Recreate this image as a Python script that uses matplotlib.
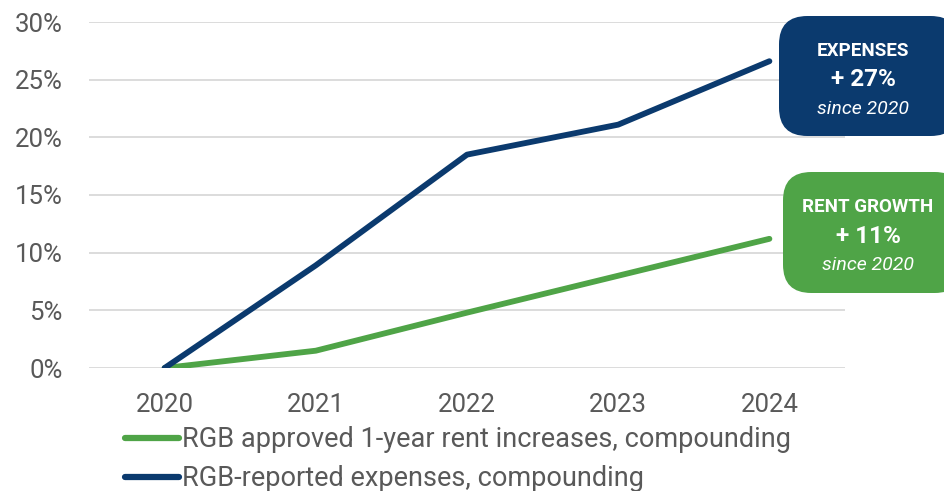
import matplotlib.pyplot as plt
from matplotlib.patches import FancyBboxPatch
from matplotlib.lines import Line2D

years = ["2020", "2021", "2022", "2023", "2024"]
rent_growth = [0.0, 1.5, 4.8, 8.0, 11.2]
expenses = [0.0, 8.9, 18.5, 21.1, 26.6]
y_ticks = [0, 5, 10, 15, 20, 25, 30]

NAVY = "#0b3a6e"
GREEN = "#4fa447"
GREY = "#595959"

plt.rcParams["font.family"] = ["Roboto", "DejaVu Sans"]

fig = plt.figure(figsize=(9.44, 4.91), dpi=100)
ax = fig.add_axes([89 / 944, 1 - 368 / 491, (845 - 89) / 944, (368 - 22) / 491])

x = range(len(years))
ax.plot(x, rent_growth, color=GREEN, lw=4.2, solid_capstyle="round", zorder=3)
ax.plot(x, expenses, color=NAVY, lw=4.2, solid_capstyle="round", zorder=4)

ax.set_xlim(-0.5, len(years) - 0.5)
ax.set_ylim(0, 30)
ax.set_xticks(list(x))
ax.set_xticklabels(years)
ax.set_yticks(y_ticks)
ax.set_yticklabels([f"{v}%" for v in y_ticks])
ax.tick_params(length=0, labelsize=18.5, colors=GREY)
ax.tick_params(axis="x", pad=18)
ax.tick_params(axis="y", pad=19)
for s in ax.spines.values():
    s.set_visible(False)
ax.grid(axis="y", color="#d9d9d9", lw=1.3)
ax.set_axisbelow(True)


# callout boxes
def callout(x0, y0, w, h, color, title, value, cx):
    box = FancyBboxPatch((x0 / 944, 1 - (y0 + h) / 491), w / 944, h / 491,
                         boxstyle="round,pad=0,rounding_size=0.03",
                         transform=fig.transFigure, facecolor=color,
                         edgecolor="none", clip_on=False, mutation_aspect=944 / 491)
    fig.patches.append(box)
    cx = cx / 944
    fig.text(cx, 1 - (y0 + 35) / 491, title, color="white", fontsize=13.5,
             fontweight="bold", ha="center", va="center")
    fig.text(cx, 1 - (y0 + 64) / 491, value, color="white", fontsize=17.5,
             fontweight="bold", ha="center", va="center")
    fig.text(cx, 1 - (y0 + 93) / 491, "since 2020", color="white", fontsize=14,
             style="italic", ha="center", va="center")


callout(779, 16, 180, 120, NAVY, "EXPENSES", "+ 27%", 863)
callout(783, 172, 180, 121, GREEN, "RENT GROWTH", "+ 11%", 868)

handles = [Line2D([], [], color=GREEN, lw=4.5, solid_capstyle="round"),
           Line2D([], [], color=NAVY, lw=4.5, solid_capstyle="round")]
labels = ["RGB approved 1-year rent increases, compounding",
          "RGB-reported expenses, compounding"]
leg = fig.legend(handles, labels, loc="upper left",
                 bbox_to_anchor=(125 / 944, 1 - 426 / 491), frameon=False,
                 borderpad=0, borderaxespad=0,
                 handlelength=2.0, handletextpad=0.1, labelspacing=0.45,
                 prop={"size": 19.5})
for t in leg.get_texts():
    t.set_color(GREY)

fig.savefig("out.png", dpi=100)
